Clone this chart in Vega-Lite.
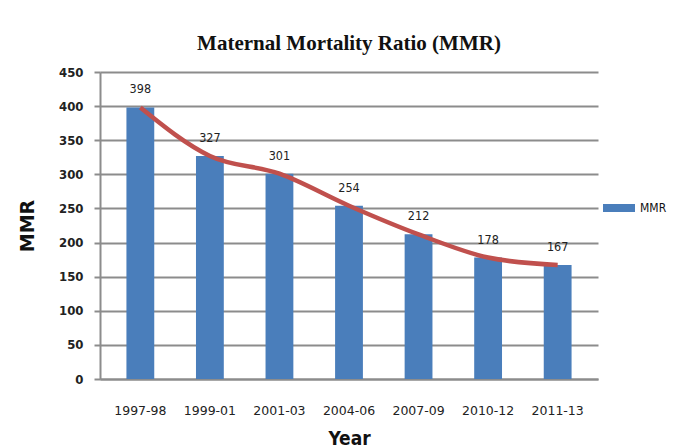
{
  "$schema": "https://vega.github.io/schema/vega-lite/v6.json",
  "autosize": {"type": "none"},
  "width": 498,
  "height": 307,
  "padding": {"left": 100, "top": 72, "right": 75, "bottom": 69},
  "background": "white",
  "title": {
    "text": "Maternal Mortality Ratio (MMR)",
    "font": "Liberation Serif",
    "fontSize": 21,
    "fontWeight": "bold",
    "color": "#111111",
    "anchor": "middle",
    "offset": 12
  },
  "data": {
    "values": [
      {"year": "1997-98", "mmr": 398},
      {"year": "1999-01", "mmr": 327},
      {"year": "2001-03", "mmr": 301},
      {"year": "2004-06", "mmr": 254},
      {"year": "2007-09", "mmr": 212},
      {"year": "2010-12", "mmr": 178},
      {"year": "2011-13", "mmr": 167}
    ]
  },
  "encoding": {
    "x": {
      "field": "year",
      "type": "nominal",
      "sort": null,
      "scale": {"paddingInner": 0.6, "paddingOuter": 0.38},
      "axis": {
        "title": "Year",
        "titleFont": "DejaVu Sans Condensed",
        "titleFontSize": 19,
        "titleFontWeight": "bold",
        "titleColor": "#111111",
        "titlePadding": 13,
        "labelAngle": 0,
        "labelFont": "DejaVu Sans",
        "labelFontSize": 12.5,
        "labelColor": "#222222",
        "labelPadding": 25,
        "ticks": false,
        "domainColor": "#8c8c8c",
        "domainWidth": 2
      }
    },
    "y": {
      "field": "mmr",
      "type": "quantitative",
      "scale": {"domain": [0, 450]},
      "axis": {
        "title": "MMR",
        "titleFont": "DejaVu Sans",
        "titleFontSize": 19,
        "titleFontWeight": "bold",
        "titleColor": "#111111",
        "titlePadding": 21,
        "values": [0, 50, 100, 150, 200, 250, 300, 350, 400, 450],
        "labelFont": "DejaVu Sans Condensed",
        "labelFontSize": 13,
        "labelFontWeight": "bold",
        "labelColor": "#222222",
        "labelPadding": 11,
        "tickSize": 6,
        "tickColor": "#8c8c8c",
        "tickWidth": 2,
        "domainColor": "#8c8c8c",
        "domainWidth": 2,
        "grid": true,
        "gridColor": "#8c8c8c",
        "gridWidth": 2
      }
    }
  },
  "layer": [
    {
      "mark": {"type": "bar", "color": "#4a7ebb"},
      "encoding": {
        "color": {
          "datum": "MMR",
          "scale": {"range": ["#4a7ebb"]},
          "legend": {
            "title": null,
            "orient": "none",
            "legendX": 511,
            "legendY": 128,
            "padding": 0,
            "symbolType": "M-2,-0.5H2V0.5H-2Z",
            "symbolSize": 256,
            "symbolStrokeWidth": 0,
            "labelFont": "DejaVu Sans Condensed",
            "labelFontSize": 12,
            "labelColor": "#111111",
            "labelOffset": 13
          }
        }
      }
    },
    {
      "mark": {"type": "line", "color": "#c0504d", "strokeWidth": 4.5, "interpolate": "monotone"},
      "encoding": {}
    },
    {
      "mark": {"type": "text", "baseline": "middle", "dy": -18, "font": "DejaVu Sans Condensed", "fontSize": 12.5, "color": "#222222"},
      "encoding": {"text": {"field": "mmr", "type": "quantitative"}}
    }
  ],
  "config": {
    "view": {"stroke": null}
  }
}
